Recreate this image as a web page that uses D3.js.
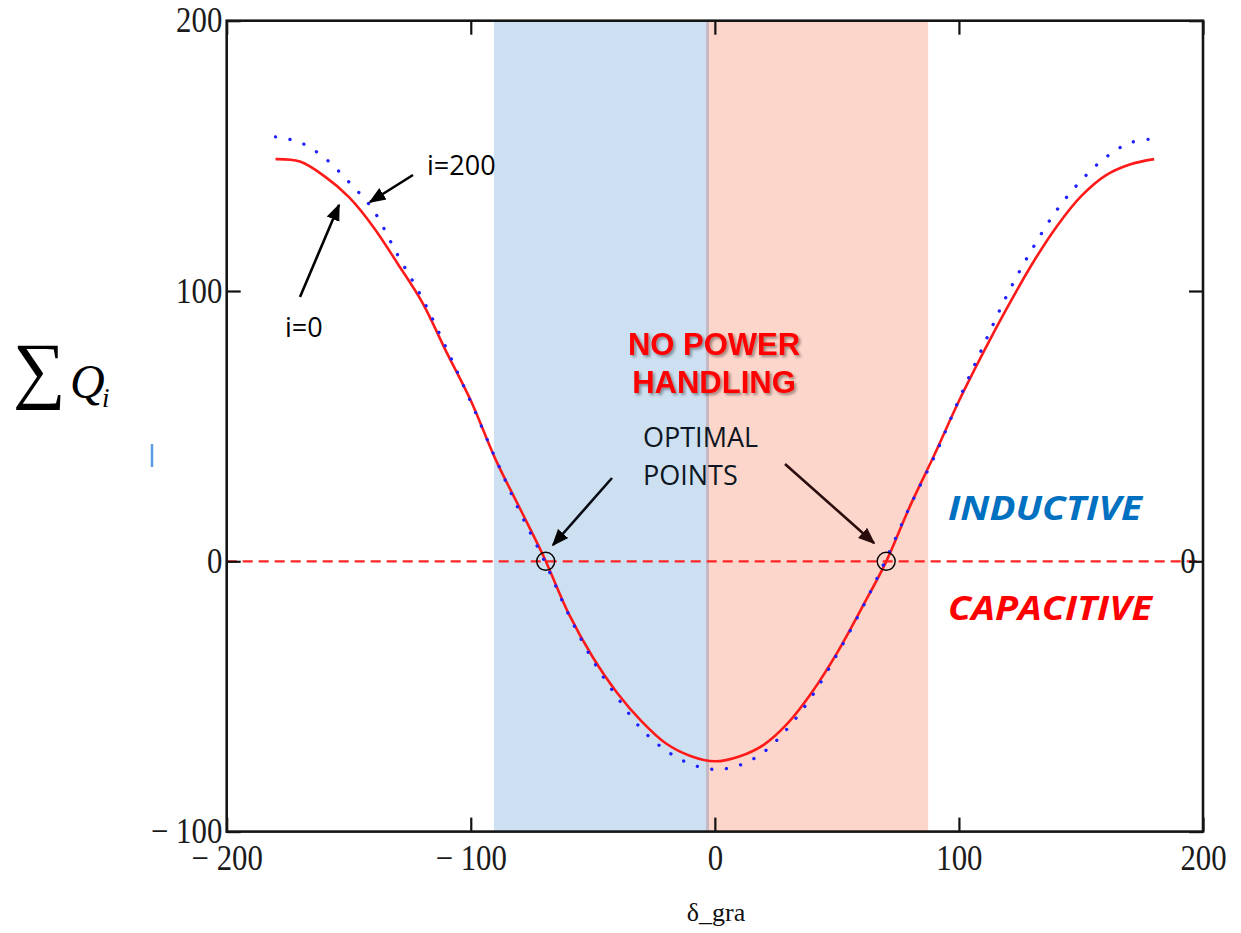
<!DOCTYPE html>
<html>
<head>
<meta charset="utf-8">
<script src="https://cdn.jsdelivr.net/npm/d3@7"></script>
<style>
  html, body { margin: 0; padding: 0; background: #ffffff; }
  svg { display: block; }
</style>
</head>
<body>
<svg id="chart" width="1241" height="933"></svg>
<script>
// Rotor angle in degrees (δ_gra)
const delta = [-180,-170,-160,-150,-140,-130,-120,-110,-100,-90,-80,-70,-60,-50,-40,-30,-20,-10,
               0,10,20,30,40,50,60,70,80,90,100,110,120,130,140,150,160,170,180];

// Total reactive power, i = 0 (solid red)
const qStart = [148.8,147.9,142.5,134.8,123.8,110.2,96.0,77.5,59.5,38.0,19.8,1.5,-19.2,-35.5,-48.7,-59.2,-67.4,-72.0,
                -74.0,-72.2,-67.9,-59.8,-48.2,-34.0,-17.6,-0.5,20.5,39.5,59.3,77.3,94.2,110.0,123.8,135.0,142.7,146.8,148.8];

// Total reactive power, i = 200 (dotted blue)
const qEnd = [157.0,155.0,149.3,140.4,130.0,113.4,97.5,78.8,59.0,38.3,18.5,0.5,-19.5,-36.6,-50.3,-62.1,-70.0,-75.0,
              -77.0,-75.5,-70.6,-61.6,-49.6,-34.5,-18.0,0.5,20.5,38.8,59.8,79.7,99.0,115.5,129.8,140.8,149.3,154.8,156.3];

// Zero crossings of the curve
const optimalPoints = [-69.3, 70.2];

// Shaded operating zones: [from, to]
const inductiveZone = [-90.5, -3.0];
const capacitiveZone = [-3.0, 87.4];

const xTicks = [-200, -100, 0, 100, 200];
const yTicks = [-100, 0, 100, 200];

const svg = d3.select("#chart");
const plotLeft = 226.7, plotRight = 1203, plotTop = 20.7, plotBottom = 831.6;

const x = d3.scaleLinear().domain([-200, 200]).range([plotLeft, plotRight]);
const y = d3.scaleLinear().domain([-100, 200]).range([plotBottom, plotTop]);

const defs = svg.append("defs");
defs.append("clipPath").attr("id", "plotClip")
  .append("rect").attr("x", plotLeft).attr("y", plotTop)
  .attr("width", plotRight - plotLeft).attr("height", plotBottom - plotTop);

const shadow = defs.append("filter").attr("id", "textShadow")
  .attr("x", "-10%").attr("y", "-20%").attr("width", "130%").attr("height", "160%");
shadow.append("feDropShadow").attr("dx", 2).attr("dy", 2).attr("stdDeviation", 1.4)
  .attr("flood-color", "#000").attr("flood-opacity", 0.4);

function arrowMarker(id, color) {
  defs.append("marker").attr("id", id)
    .attr("viewBox", "0 0 10 10").attr("refX", 9).attr("refY", 5)
    .attr("markerWidth", 17).attr("markerHeight", 17)
    .attr("markerUnits", "userSpaceOnUse").attr("orient", "auto")
    .append("path").attr("d", "M0,1 L10,5 L0,9 Z").attr("fill", color);
}
arrowMarker("arrowDark", "#000000");
arrowMarker("arrowBrown", "#2a0c0c");

const plot = svg.append("g").attr("clip-path", "url(#plotClip)");

// Operating zones
plot.append("rect")
  .attr("x", x(inductiveZone[0])).attr("y", plotTop)
  .attr("width", x(inductiveZone[1]) - x(inductiveZone[0])).attr("height", plotBottom - plotTop)
  .attr("fill", "#cce0f1");
plot.append("rect")
  .attr("x", x(capacitiveZone[0])).attr("y", plotTop)
  .attr("width", x(capacitiveZone[1]) - x(capacitiveZone[0])).attr("height", plotBottom - plotTop)
  .attr("fill", "#fdd6cb");
plot.append("line")
  .attr("x1", x(capacitiveZone[0])).attr("x2", x(capacitiveZone[0]))
  .attr("y1", plotTop).attr("y2", plotBottom)
  .attr("stroke", "#c6b8c2").attr("stroke-width", 3);

// Zero marker line
plot.append("line")
  .attr("x1", plotLeft).attr("x2", plotRight).attr("y1", y(0)).attr("y2", y(0))
  .attr("stroke", "#ff2424").attr("stroke-width", 2.3).attr("stroke-dasharray", "10,6");

const line = d3.line().x((d, i) => x(delta[i])).y(d => y(d)).curve(d3.curveCatmullRom.alpha(0.5));

plot.append("path").datum(qStart)
  .attr("d", line).attr("fill", "none")
  .attr("stroke", "#ff1a1a").attr("stroke-width", 2.6);

plot.append("path").datum(qEnd)
  .attr("d", line).attr("fill", "none")
  .attr("stroke", "#1f1fff").attr("stroke-width", 3.3)
  .attr("stroke-linecap", "round").attr("stroke-dasharray", "0.1,14.6");

// Optimal points
plot.selectAll("circle.opt").data(optimalPoints).enter().append("circle")
  .attr("class", "opt")
  .attr("cx", d => x(d)).attr("cy", y(0)).attr("r", 9)
  .attr("fill", "none").attr("stroke", "#000").attr("stroke-width", 1.4);

// Axes: ticks point into the plot on all four sides
const fmt = d => d < 0 ? "\u2212 " + Math.abs(d) : String(d);
const axisFont = "'Liberation Serif', 'Times New Roman', serif";

const gx = svg.append("g").attr("transform", `translate(0,${plotBottom})`)
  .call(d3.axisBottom(x).tickValues(xTicks).tickSize(-14).tickPadding(13.5).tickFormat(fmt));
const gy = svg.append("g").attr("transform", `translate(${plotLeft},0)`)
  .call(d3.axisLeft(y).tickValues(yTicks).tickSize(-14).tickPadding(5).tickFormat(fmt));
const gt = svg.append("g").attr("transform", `translate(0,${plotTop})`)
  .call(d3.axisTop(x).tickValues(xTicks).tickSize(-14).tickFormat(""));
const gr = svg.append("g").attr("transform", `translate(${plotRight},0)`)
  .call(d3.axisRight(y).tickValues(yTicks).tickSize(-14).tickFormat(""));

[gx, gy, gt, gr].forEach(g => {
  g.select(".domain").remove();
  g.selectAll(".tick line").attr("stroke", "#111").attr("stroke-width", 2.2);
  g.selectAll(".tick text")
    .attr("font-family", axisFont).attr("font-size", 35).attr("fill", "#1a1a1a")
    .attr("transform", "scale(0.88,1)");
});

// Plot frame
svg.append("rect")
  .attr("x", plotLeft).attr("y", plotTop)
  .attr("width", plotRight - plotLeft).attr("height", plotBottom - plotTop)
  .attr("fill", "none").attr("stroke", "#151515").attr("stroke-width", 2.6);

// Marker value at the right end of the zero line
svg.append("text")
  .attr("transform", `translate(${x(200) - 15},${y(0)}) scale(0.88,1)`)
  .attr("dy", "0.34em")
  .attr("text-anchor", "middle")
  .attr("font-family", axisFont).attr("font-size", 35).attr("fill", "#1a1a1a")
  .text("0");

// Axis titles
svg.append("text")
  .attr("x", 716).attr("y", 921).attr("text-anchor", "middle")
  .attr("font-family", axisFont).attr("font-size", 26).attr("fill", "#111")
  .text("δ_gra");

// ΣQ_i as a single text run: sum sign, italic Q, lowered italic i
const yTitle = svg.append("text")
  .attr("x", 13).attr("y", 394)
  .attr("font-family", axisFont).attr("fill", "#000");
yTitle.append("tspan").attr("font-size", 74).text("\u2211");
yTitle.append("tspan").attr("x", 70).attr("dy", 4)
  .attr("font-size", 48).attr("font-style", "italic").text("Q");
yTitle.append("tspan").attr("x", 102).attr("dy", 9)
  .attr("font-size", 27).attr("font-style", "italic").text("i");

// small stray mark left of the axis
svg.append("line").attr("x1", 152).attr("x2", 152).attr("y1", 444).attr("y2", 467)
  .attr("stroke", "#5a9be0").attr("stroke-width", 2.5);

// Annotations
const sans = "'Open Sans', 'Noto Sans', sans-serif";

svg.append("text").attr("x", 427).attr("y", 175)
  .attr("font-family", sans).attr("font-size", 27).attr("fill", "#000").text("i=200");
svg.append("text").attr("x", 285).attr("y", 337)
  .attr("font-family", sans).attr("font-size", 27).attr("fill", "#000").text("i=0");

const arrows = [
  { x1: 413, y1: 175, x2: 370, y2: 202, m: "arrowDark", c: "#000" },
  { x1: 300, y1: 297, x2: 339, y2: 205, m: "arrowDark", c: "#000" },
  { x1: 612, y1: 478, x2: 553, y2: 545, m: "arrowDark", c: "#0a0a14" },
  { x1: 785, y1: 464, x2: 874, y2: 543, m: "arrowBrown", c: "#2a0c0c" }
];
svg.selectAll("line.arrow").data(arrows).enter().append("line")
  .attr("class", "arrow")
  .attr("x1", d => d.x1).attr("y1", d => d.y1).attr("x2", d => d.x2).attr("y2", d => d.y2)
  .attr("stroke", d => d.c).attr("stroke-width", 2.6)
  .attr("marker-end", d => `url(#${d.m})`);

const warn = svg.append("g")
  .attr("font-family", "'Liberation Sans', Arial, sans-serif")
  .attr("font-weight", "bold").attr("font-size", 31)
  .attr("fill", "#ff0000").attr("text-anchor", "middle")
  .attr("filter", "url(#textShadow)");
warn.append("text").attr("x", 714).attr("y", 355).text("NO POWER");
warn.append("text").attr("x", 714).attr("y", 393).text("HANDLING");

const opt = svg.append("g").attr("font-family", sans).attr("font-size", 27).attr("fill", "#0d1622");
opt.append("text").attr("x", 643).attr("y", 447).text("OPTIMAL");
opt.append("text").attr("x", 643).attr("y", 485).text("POINTS");

svg.append("text").attr("x", 948).attr("y", 520)
  .attr("font-family", sans).attr("font-weight", "bold").attr("font-style", "italic")
  .attr("font-size", 34).attr("fill", "#0070c0")
  .attr("textLength", 194).attr("lengthAdjust", "spacingAndGlyphs")
  .text("INDUCTIVE");
svg.append("text").attr("x", 948).attr("y", 620)
  .attr("font-family", sans).attr("font-weight", "bold").attr("font-style", "italic")
  .attr("font-size", 34).attr("fill", "#ff0000")
  .attr("textLength", 204).attr("lengthAdjust", "spacingAndGlyphs")
  .text("CAPACITIVE");
</script>
</body>
</html>
